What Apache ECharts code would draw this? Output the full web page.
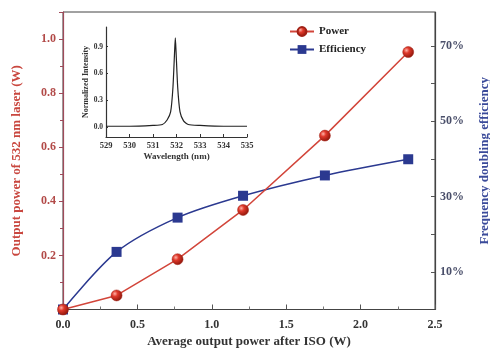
<!DOCTYPE html>
<html>
<head>
<meta charset="utf-8">
<script src="https://cdn.jsdelivr.net/npm/echarts@6/dist/echarts.min.js"></script>
<style>html,body{margin:0;padding:0;background:#fff}#c{width:490px;height:353px}</style>
</head>
<body>
<div id="c"></div>
<script>
// Main chart data
const inputPower = [0, 0.36, 0.77, 1.21, 1.76, 2.32];
const outputPower = [0, 0.052, 0.186, 0.368, 0.643, 0.952];
const efficiency = [0, 0.153, 0.244, 0.302, 0.356, 0.399];
const xTicks = [0, 0.5, 1.0, 1.5, 2.0, 2.5];
const leftTicks = [0.2, 0.4, 0.6, 0.8, 1.0];
const rightTicks = [0.1, 0.3, 0.5, 0.7];
// Inset spectrum data
const wavelength = [529, 530, 531, 531.4, 531.6, 531.75, 531.85, 531.92, 531.95, 531.98, 532.05, 532.15, 532.3, 532.5, 533, 534, 535];
const intensity = [0.01, 0.01, 0.02, 0.03, 0.08, 0.17, 0.45, 0.85, 1.0, 0.85, 0.45, 0.17, 0.07, 0.03, 0.02, 0.01, 0.01];
const insetYTicks = [0, 0.3, 0.6, 0.9];

const FONT = '"Liberation Serif","DejaVu Serif",serif';
const RED = '#d2453a';
const BLUE = '#2b3990';

const chart = echarts.init(document.getElementById('c'), null, {renderer: 'canvas'});
const redBall = new echarts.graphic.RadialGradient(0.35, 0.35, 0.7, [
  {offset: 0, color: '#ffb3a8'},
  {offset: 0.35, color: '#e0392b'},
  {offset: 1, color: '#8a1409'}
]);

chart.setOption({
  backgroundColor: '#fff',
  animation: false,
  legend: {
    orient: 'vertical', left: 289, top: 26, itemGap: 7, padding: 0,
    itemWidth: 24, itemHeight: 11,
    textStyle: {fontFamily: FONT, fontWeight: 'bold', fontSize: 11, color: '#222'},
    data: ['Power', 'Efficiency']
  },
  grid: [
    {left: 63, right: 55, top: 12, bottom: 43.5, show: true, borderColor: '#444', borderWidth: 1,
      containLabel: false, outerBoundsMode: 'none'},
    {left: 106, right: 243, top: 27, bottom: 216, containLabel: false, outerBoundsMode: 'none'}
  ],
  xAxis: [
    {
      gridIndex: 0, type: 'value', min: 0, max: 2.5, interval: 0.5,
      name: 'Average output power after ISO (W)', nameLocation: 'middle', nameGap: 25,
      nameTextStyle: {fontFamily: FONT, fontWeight: 'bold', fontSize: 13, color: '#333'},
      axisLine: {onZero: false, lineStyle: {color: '#444', width: 1.2}},
      axisTick: {inside: true, length: 5, lineStyle: {color: '#555'}},
      minorTick: {show: true, splitNumber: 2, length: 3, lineStyle: {color: '#777'}},
      axisLabel: {margin: 9, fontFamily: FONT, fontWeight: 'bold', fontSize: 12, color: '#333',
        customValues: xTicks, formatter: v => v.toFixed(1)},
      splitLine: {show: false}
    },
    {
      gridIndex: 1, type: 'value', min: 529, max: 535, interval: 1,
      name: 'Wavelength (nm)', nameLocation: 'middle', nameGap: 15,
      nameTextStyle: {fontFamily: FONT, fontWeight: 'bold', fontSize: 9, color: '#333'},
      axisLine: {onZero: false, lineStyle: {color: '#333', width: 1.2}},
      axisTick: {inside: true, length: 3, lineStyle: {color: '#333'}},
      axisLabel: {margin: 4, fontFamily: FONT, fontWeight: 'bold', fontSize: 8.5, color: '#333'},
      splitLine: {show: false}
    }
  ],
  yAxis: [
    {
      gridIndex: 0, type: 'value', min: 0, max: 1.1, interval: 0.2, position: 'left',
      name: 'Output power of 532 nm laser (W)', nameLocation: 'middle', nameGap: 40, nameRotate: 90,
      nameTextStyle: {fontFamily: FONT, fontWeight: 'bold', fontSize: 13, color: '#c9473f'},
      axisLine: {show: true, lineStyle: {color: '#a04a5a', width: 1.2}},
      axisTick: {show: true, length: 4, lineStyle: {color: '#a04a5a'}},
      minorTick: {show: true, splitNumber: 2, length: 3, lineStyle: {color: '#a04a5a'}},
      axisLabel: {margin: 7, fontFamily: FONT, fontWeight: 'bold', fontSize: 12, color: '#b24a48',
        customValues: leftTicks, formatter: v => v.toFixed(1)},
      splitLine: {show: false}
    },
    {
      gridIndex: 0, type: 'value', min: 0, max: 0.79, position: 'right', alignTicks: false,
      name: 'Frequency doubling efficiency', nameLocation: 'middle', nameGap: 43, nameRotate: 90,
      nameTextStyle: {fontFamily: FONT, fontWeight: 'bold', fontSize: 13, color: '#3a4a9a'},
      axisLine: {show: true, lineStyle: {color: '#444', width: 1.2}},
      axisTick: {show: true, inside: true, length: 4, lineStyle: {color: '#555'},
        customValues: [0.1, 0.2, 0.3, 0.4, 0.5, 0.6, 0.7]},
      axisLabel: {margin: 5, fontFamily: FONT, fontWeight: 'bold', fontSize: 12, color: '#4a4f6a',
        customValues: rightTicks, formatter: v => Math.round(v * 100) + '%'},
      splitLine: {show: false}
    },
    {
      gridIndex: 1, type: 'value', min: -0.11, max: 1.12,
      name: 'Normalized Intensity', nameLocation: 'middle', nameGap: 12, nameRotate: 90,
      nameTextStyle: {fontFamily: FONT, fontWeight: 'bold', fontSize: 8, color: '#333'},
      axisLine: {show: true, onZero: false, lineStyle: {color: '#333', width: 1.2}},
      axisTick: {show: true, inside: true, length: 2, lineStyle: {color: '#333'}, customValues: insetYTicks},
      axisLabel: {margin: 3, fontFamily: FONT, fontWeight: 'bold', fontSize: 7.5, color: '#333',
        customValues: insetYTicks, formatter: v => v.toFixed(1)},
      splitLine: {show: false}
    }
  ],
  series: [
    {
      name: 'Power', type: 'line', xAxisIndex: 0, yAxisIndex: 0,
      data: inputPower.map((x, i) => [x, outputPower[i]]),
      symbol: 'circle', symbolSize: 11, showSymbol: true,
      lineStyle: {color: RED, width: 1.5},
      itemStyle: {color: redBall, borderColor: '#a02015', borderWidth: 0.5},
      z: 3
    },
    {
      name: 'Efficiency', type: 'line', xAxisIndex: 0, yAxisIndex: 1,
      data: inputPower.map((x, i) => [x, efficiency[i]]),
      symbol: 'rect', symbolSize: 10, smooth: 0.3,
      lineStyle: {color: BLUE, width: 1.5},
      itemStyle: {color: BLUE},
      z: 2
    },
    {
      name: 'Spectrum', type: 'line', xAxisIndex: 1, yAxisIndex: 2,
      data: wavelength.map((x, i) => [x, intensity[i]]),
      symbol: 'none', smooth: 0.2,
      lineStyle: {color: '#222', width: 1.2}
    }
  ]
});
</script>
</body>
</html>
